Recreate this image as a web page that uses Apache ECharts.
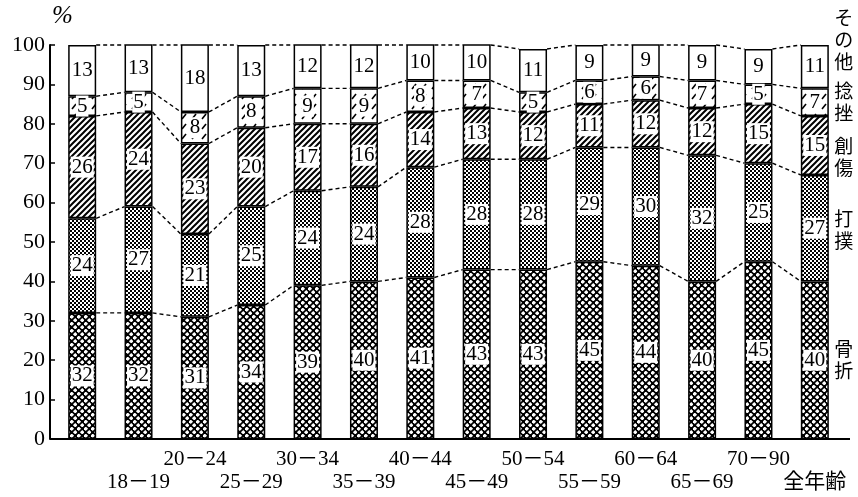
<!DOCTYPE html>
<html>
<head>
<meta charset="utf-8">
<script src="https://cdn.jsdelivr.net/npm/echarts@6/dist/echarts.min.js"></script>
<style>
    html, body { margin: 0; padding: 0; background: #fff; }
    #chart { width: 858px; height: 497px; }
</style>
</head>
<body>
<div id="chart"></div>
<script>
    // 年齢階級（先頭の棒はラベルなし）
    let ageList = ['', '18－19', '20－24', '25－29', '30－34', '35－39', '40－44',
        '45－49', '50－54', '55－59', '60－64', '65－69', '70－90', '全年齢'];
    // 下から積み上げ (%)
    let fracture = [32, 32, 31, 34, 39, 40, 41, 43, 43, 45, 44, 40, 45, 40];
    let bruise   = [24, 27, 21, 25, 24, 24, 28, 28, 28, 29, 30, 32, 25, 27];
    let wound    = [26, 24, 23, 20, 17, 16, 14, 13, 12, 11, 12, 12, 15, 15];
    let sprain   = [5, 5, 8, 8, 9, 9, 8, 7, 5, 6, 6, 7, 5, 7];
    let other    = [13, 13, 18, 13, 12, 12, 10, 10, 11, 9, 9, 9, 9, 11];
    let seriesNames = ['骨折', '打撲', '創傷', '捻挫', 'その他'];

    let stackData = [fracture, bruise, wound, sprain, other];
    let barWidth = 28;
    let serif = '"Liberation Serif", "DejaVu Serif", "Noto Sans CJK JP", serif';
    // 右端の分類名の上下ずれ (px)
    let sideShift = [0, 2, 11, 0, 0];

    function makePattern(w, h, draw) {
        let c = document.createElement('canvas');
        c.width = w;
        c.height = h;
        let ctx = c.getContext('2d');
        ctx.fillStyle = '#fff';
        ctx.fillRect(0, 0, w, h);
        draw(ctx, w, h);
        return {image: c, repeat: 'repeat'};
    }
    function diamond(ctx, x, y, r) {
        ctx.beginPath();
        ctx.moveTo(x, y - r); ctx.lineTo(x + r, y); ctx.lineTo(x, y + r); ctx.lineTo(x - r, y);
        ctx.closePath();
        ctx.fill();
    }

    // 骨折: 黒地に白い菱形
    let patFracture = makePattern(7, 7, (ctx) => {
        ctx.fillStyle = '#000';
        ctx.fillRect(0, 0, 7, 7);
        ctx.fillStyle = '#fff';
        diamond(ctx, 1.75, 1.75, 2.3);
        diamond(ctx, 5.25, 5.25, 2.3);
    });
    // 打撲: 細かい網点
    let patBruise = makePattern(4, 4, (ctx) => {
        ctx.fillStyle = '#000';
        ctx.fillRect(0, 0, 2, 2);
        ctx.fillRect(2, 2, 2, 2);
        ctx.fillRect(1, 1, 1, 1);
    });
    // 創傷: 斜線
    let patWound = makePattern(6, 6, (ctx) => {
        ctx.strokeStyle = '#000';
        ctx.lineWidth = 2;
        ctx.beginPath();
        ctx.moveTo(-1, 7); ctx.lineTo(7, -1);
        ctx.moveTo(-1, 1); ctx.lineTo(1, -1);
        ctx.moveTo(5, 7); ctx.lineTo(7, 5);
        ctx.stroke();
    });
    // 捻挫: 途切れた斜線
    let patSprain = makePattern(10, 10, (ctx) => {
        ctx.strokeStyle = '#000';
        ctx.lineWidth = 1.6;
        ctx.beginPath();
        ctx.moveTo(2, 9); ctx.lineTo(6, 4);
        ctx.stroke();
    });
    let patterns = [patFracture, patBruise, patWound, patSprain, '#fff'];

    // 積み上げた境界の高さ（100で頭打ち）
    function levelAt(i, k) {
        let s = 0;
        for (let j = 0; j <= k; j++) s += stackData[j][i];
        return Math.min(s, 100);
    }

    let chart = echarts.init(document.getElementById('chart'));

    let barSeries = stackData.map((vals, k) => {
        return {
            name: seriesNames[k],
            type: 'bar',
            stack: 'total',
            barWidth: barWidth,
            clip: true,
            data: vals,
            itemStyle: {
                color: patterns[k],
                borderColor: '#000',
                borderWidth: 1.5
            },
            label: {
                show: true,
                position: 'inside',
                color: '#000',
                fontFamily: serif,
                fontSize: 21,
                lineHeight: 20,
                backgroundColor: '#fff',
                padding: [1, 1, 0, 1]
            }
        };
    });

    // 棒と棒をつなぐ点線
    let connectorSeries = {
        type: 'custom',
        z: 1,
        silent: true,
        data: ageList.slice(0, ageList.length - 1).map((a, i) => [i]),
        encode: {x: 0},
        renderItem: function (params, api) {
            let i = api.value(0);
            let half = barWidth / 2;
            let children = [];
            for (let k = 0; k < stackData.length; k++) {
                let p1 = api.coord([i, levelAt(i, k)]);
                let p2 = api.coord([i + 1, levelAt(i + 1, k)]);
                children.push({
                    type: 'line',
                    shape: {x1: p1[0] + half, y1: p1[1], x2: p2[0] - half, y2: p2[1]},
                    style: {stroke: '#000', lineWidth: 1.4, lineDash: [4, 3]}
                });
            }
            return {type: 'group', children: children};
        }
    };

    // 右端の分類名（縦書き、一文字ずつ）
    let last = ageList.length - 1;
    let sideLabelSeries = {
        type: 'custom',
        silent: true,
        data: [[last]],
        encode: {x: 0},
        renderItem: function (params, api) {
            let i = api.value(0);
            let step = 22;
            let children = [];
            seriesNames.forEach((name, k) => {
                let lo = k === 0 ? 0 : levelAt(i, k - 1);
                let hi = levelAt(i, k);
                let p = api.coord([i, (lo + hi) / 2]);
                let cy = p[1] + sideShift[k];
                if (k === seriesNames.length - 1) {
                    cy = api.coord([i, 100])[1] - 5;
                }
                let chars = name.split('');
                chars.forEach((ch, n) => {
                    children.push({
                        type: 'text',
                        x: p[0] + barWidth / 2 + 15,
                        y: cy + (n - (chars.length - 1) / 2) * step,
                        style: {
                            text: ch,
                            fill: '#000',
                            fontSize: 19,
                            fontFamily: '"Noto Sans CJK JP", sans-serif',
                            align: 'center',
                            verticalAlign: 'middle'
                        }
                    });
                });
            });
            return {type: 'group', children: children};
        }
    };

    let option = {
        animation: false,
        backgroundColor: '#fff',
        grid: {left: 54, right: 15, top: 45, bottom: 58},
        xAxis: {
            type: 'category',
            data: ageList,
            axisLine: {lineStyle: {color: '#000', width: 2}},
            axisTick: {show: false},
            axisLabel: {
                interval: 0,
                margin: 9,
                color: '#000',
                fontFamily: serif,
                fontSize: 21,
                lineHeight: 23,
                formatter: function (value, index) {
                    if (index === 0) return '';
                    // 偶数番目は上段、奇数番目は下段
                    return index % 2 === 0 ? value : ' \n' + value;
                }
            }
        },
        yAxis: {
            type: 'value',
            min: 0,
            max: 100,
            interval: 10,
            offset: 4,
            name: '%',
            nameLocation: 'end',
            nameGap: 16,
            nameTextStyle: {
                color: '#000',
                fontFamily: serif,
                fontStyle: 'italic',
                fontSize: 25,
                align: 'left',
                padding: [0, 0, 0, 2]
            },
            axisLine: {show: true, lineStyle: {color: '#000', width: 2}},
            axisTick: {show: true, inside: true, length: 5, lineStyle: {color: '#000', width: 1.5}},
            splitLine: {show: false},
            axisLabel: {
                color: '#000',
                fontFamily: serif,
                fontSize: 22,
                margin: 5
            }
        },
        series: [connectorSeries].concat(barSeries).concat([sideLabelSeries])
    };
    chart.setOption(option);

    // 横軸の線を縦軸まで伸ばす
    let yBase = chart.convertToPixel({yAxisIndex: 0}, 0);
    chart.setOption({
        graphic: [{
            type: 'line',
            shape: {x1: 50, y1: yBase, x2: 850, y2: yBase},
            style: {stroke: '#000', lineWidth: 2}
        }]
    });
</script>
</body>
</html>
